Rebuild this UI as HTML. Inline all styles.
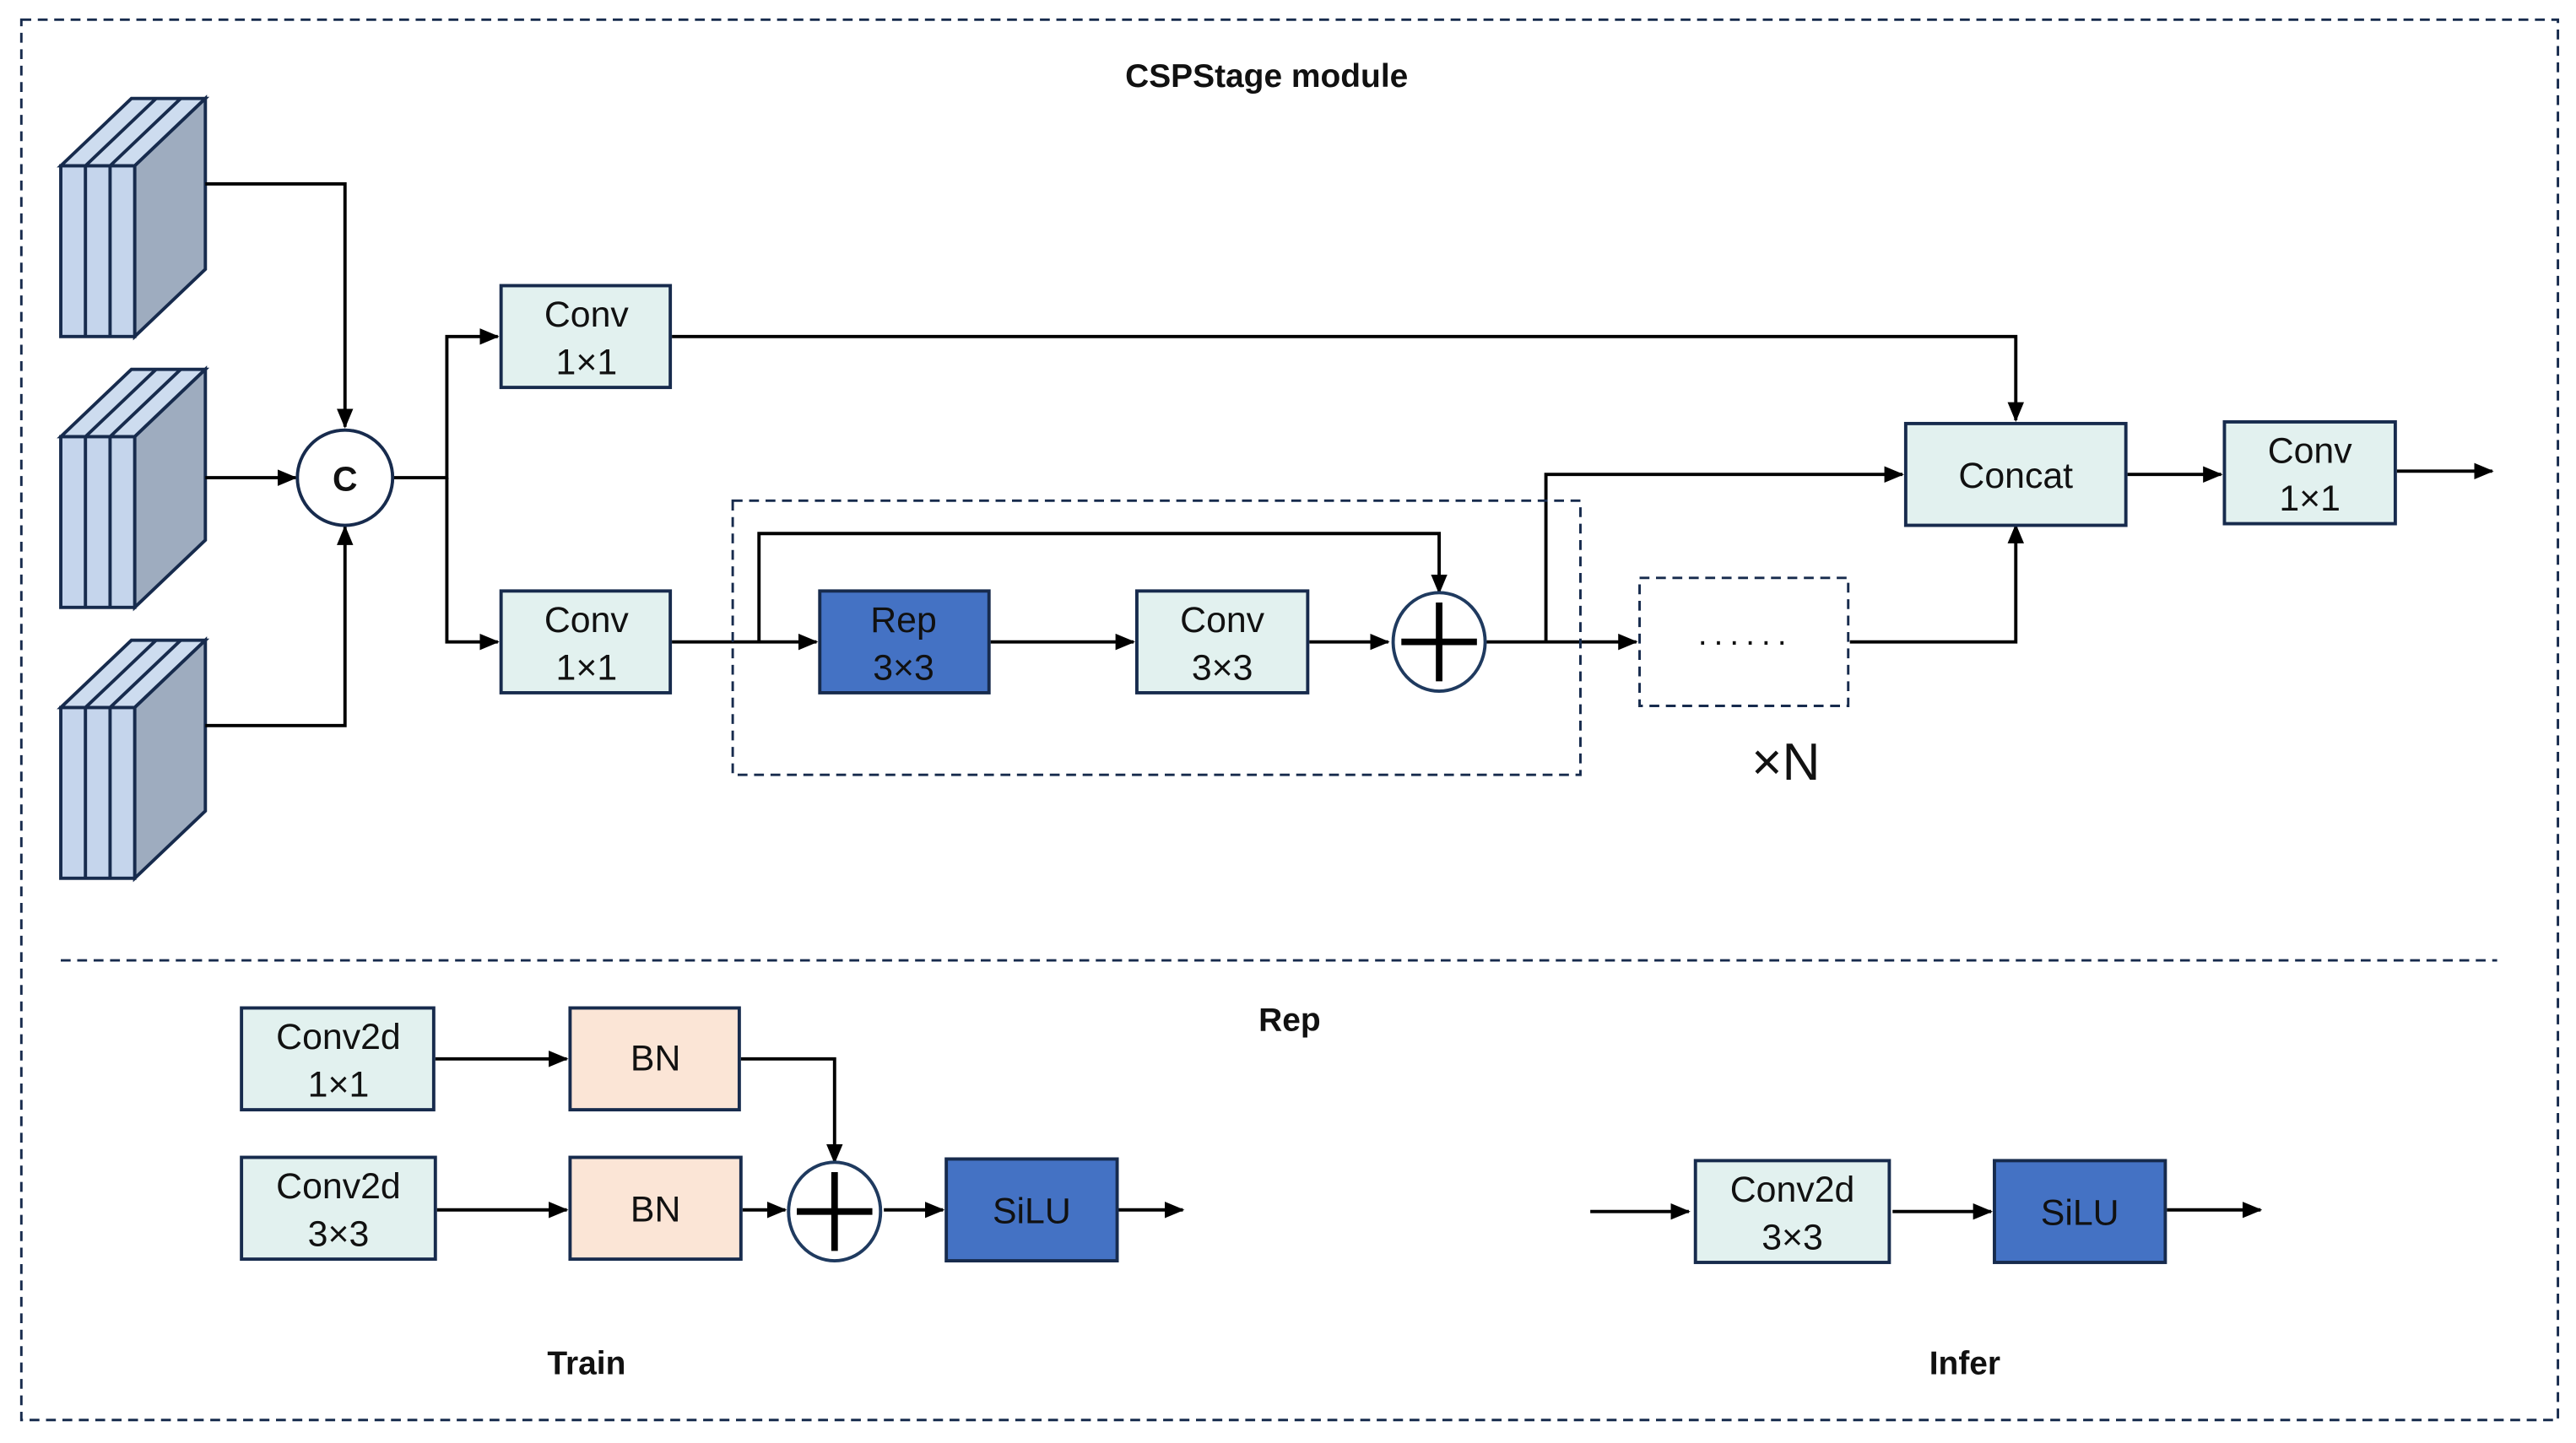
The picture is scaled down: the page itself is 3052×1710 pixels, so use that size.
<!DOCTYPE html>
<html><head><meta charset="utf-8"><style>
html,body{margin:0;padding:0;background:#fff;}
svg{display:block;}
text{font-family:"Liberation Sans",sans-serif;fill:#111;}
</style></head><body>
<svg width="3052" height="1710" viewBox="0 0 1568 879" preserveAspectRatio="none" xmlns="http://www.w3.org/2000/svg">
<defs>
<marker id="a" markerWidth="12" markerHeight="10" refX="11" refY="5" orient="auto" markerUnits="userSpaceOnUse"><path d="M0,0 L12,5 L0,10 z" fill="#000"/></marker>
<g id="cube">
<path d="M37,0 L80,-41 L125,-41 L82,0 z" fill="#cddcef" stroke="#172b4d" stroke-width="2"/>
<path d="M52,0 L95,-41 M67,0 L110,-41" stroke="#172b4d" stroke-width="2"/>
<path d="M82,0 L125,-41 L125,63 L82,104 z" fill="#9eacbf" stroke="#172b4d" stroke-width="2"/>
<rect x="37" y="0" width="45" height="104" fill="#c5d5ec" stroke="#172b4d" stroke-width="2"/>
<path d="M52,0 V104 M67,0 V104" stroke="#172b4d" stroke-width="2"/>
</g>
</defs>
<rect x="13" y="12" width="1544" height="853" fill="none" stroke="#172b4d" stroke-width="1.5" stroke-dasharray="6,4"/>
<line x1="37" y1="585" x2="1520" y2="585" stroke="#172b4d" stroke-width="1.5" stroke-dasharray="6,4"/>
<text x="771" y="53" font-size="20" font-weight="bold" text-anchor="middle">CSPStage module</text>
<text x="785" y="628" font-size="20" font-weight="bold" text-anchor="middle">Rep</text>
<text x="357" y="837" font-size="20" font-weight="bold" text-anchor="middle">Train</text>
<text x="1196" y="837" font-size="20" font-weight="bold" text-anchor="middle">Infer</text>

<use href="#cube" y="101"/>
<use href="#cube" y="266"/>
<use href="#cube" y="431"/>

<g stroke="#000" stroke-width="2" fill="none">
<path d="M125,112 H210 V260" marker-end="url(#a)"/>
<path d="M125,291 H180" marker-end="url(#a)"/>
<path d="M125,442 H210 V321" marker-end="url(#a)"/>
<path d="M239,291 H272 V205 H303" marker-end="url(#a)"/>
<path d="M272,291 V391 H303" marker-end="url(#a)"/>
<path d="M409,205 H1227 V256" marker-end="url(#a)"/>
<path d="M409,391 H497" marker-end="url(#a)"/>
<path d="M462,391 V325 H876 V361" marker-end="url(#a)"/>
<path d="M603,391 H690" marker-end="url(#a)"/>
<path d="M797,391 H845" marker-end="url(#a)"/>
<path d="M905,391 H996" marker-end="url(#a)"/>
<path d="M941,391 V289 H1158" marker-end="url(#a)"/>
<path d="M1126,391 H1227 V320" marker-end="url(#a)"/>
<path d="M1295,289 H1352" marker-end="url(#a)"/>
<path d="M1459,287 H1517" marker-end="url(#a)"/>
<path d="M265,645 H345" marker-end="url(#a)"/>
<path d="M451,645 H508 V708" marker-end="url(#a)"/>
<path d="M266,737 H345" marker-end="url(#a)"/>
<path d="M452,737 H478" marker-end="url(#a)"/>
<path d="M538,737 H574" marker-end="url(#a)"/>
<path d="M681,737 H720" marker-end="url(#a)"/>
<path d="M968,738 H1028" marker-end="url(#a)"/>
<path d="M1152,738 H1212" marker-end="url(#a)"/>
<path d="M1319,737 H1376" marker-end="url(#a)"/>
</g>

<rect x="446" y="305" width="516" height="167" fill="none" stroke="#172b4d" stroke-width="1.5" stroke-dasharray="6,4"/>
<rect x="998" y="352" width="127" height="78" fill="none" stroke="#172b4d" stroke-width="1.5" stroke-dasharray="6,4"/>
<text x="1062" y="397" font-size="20" text-anchor="middle" letter-spacing="3">······</text>
<text x="1087" y="475" font-size="32" text-anchor="middle">×N</text>

<circle cx="210" cy="291" r="29" fill="#fff" stroke="#172b4d" stroke-width="2"/>
<text x="210" y="299" font-size="21" font-weight="bold" text-anchor="middle">C</text>

<g stroke="#000">
<ellipse cx="876" cy="391" rx="28" ry="30" fill="#fff" stroke="#1f3a5f" stroke-width="2"/>
<path d="M876,367 V415 M853,391 H899" stroke-width="4"/>
<ellipse cx="508" cy="738" rx="28" ry="30" fill="#fff" stroke="#1f3a5f" stroke-width="2"/>
<path d="M508,714 V762 M485,738 H531" stroke-width="4"/>
</g>

<g stroke="#172b4d" stroke-width="2">
<rect x="305" y="174" width="103" height="62" fill="#e2f1ef"/>
<rect x="305" y="360" width="103" height="62" fill="#e2f1ef"/>
<rect x="499" y="360" width="103" height="62" fill="#4472c4"/>
<rect x="692" y="360" width="104" height="62" fill="#e2f1ef"/>
<rect x="1160" y="258" width="134" height="62" fill="#e2f1ef"/>
<rect x="1354" y="257" width="104" height="62" fill="#e2f1ef"/>
<rect x="147" y="614" width="117" height="62" fill="#e2f1ef"/>
<rect x="347" y="614" width="103" height="62" fill="#fbe5d6"/>
<rect x="147" y="705" width="118" height="62" fill="#e2f1ef"/>
<rect x="347" y="705" width="104" height="62" fill="#fbe5d6"/>
<rect x="576" y="706" width="104" height="62" fill="#4472c4"/>
<rect x="1032" y="707" width="118" height="62" fill="#e2f1ef"/>
<rect x="1214" y="707" width="104" height="62" fill="#4472c4"/>
</g>
<g font-size="22" text-anchor="middle">
<text x="357" y="199">Conv</text><text x="357" y="228">1×1</text>
<text x="357" y="385">Conv</text><text x="357" y="414">1×1</text>
<text x="550" y="385">Rep</text><text x="550" y="414">3×3</text>
<text x="744" y="385">Conv</text><text x="744" y="414">3×3</text>
<text x="1227" y="297">Concat</text>
<text x="1406" y="282">Conv</text><text x="1406" y="311">1×1</text>
<text x="206" y="639">Conv2d</text><text x="206" y="668">1×1</text>
<text x="399" y="652">BN</text>
<text x="206" y="730">Conv2d</text><text x="206" y="759">3×3</text>
<text x="399" y="744">BN</text>
<text x="628" y="745">SiLU</text>
<text x="1091" y="732">Conv2d</text><text x="1091" y="761">3×3</text>
<text x="1266" y="746">SiLU</text>
</g>
</svg>
</body></html>
